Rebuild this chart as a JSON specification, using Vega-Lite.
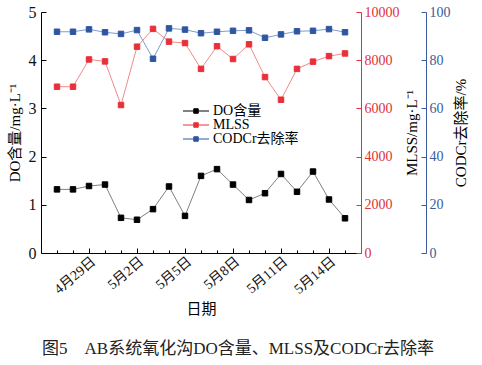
{
  "$schema": "https://vega.github.io/schema/vega-lite/v6.json",
  "width": 320,
  "height": 241,
  "autosize": {"type": "none"},
  "padding": {"left": 41, "top": 12, "right": 121, "bottom": 112},
  "background": "white",
  "config": {
    "view": {"stroke": null},
    "font": "Liberation Serif, Noto Sans CJK SC",
    "axis": {
      "grid": false,
      "labelFont": "Liberation Serif, Noto Sans CJK SC",
      "titleFont": "Liberation Serif, Noto Sans CJK SC",
      "titleFontWeight": "normal",
      "titleColor": "#000000",
      "domainWidth": 1,
      "tickWidth": 1
    }
  },
  "title": {
    "text": "图5　AB系统氧化沟DO含量、MLSS及CODCr去除率",
    "orient": "bottom",
    "anchor": "middle",
    "fontSize": 17,
    "fontWeight": "normal",
    "font": "Liberation Serif, Noto Sans CJK SC",
    "color": "#222222",
    "offset": 25,
    "dx": 37
  },
  "data": {
    "values": [
      {"date": "2018/04/27", "DO": 1.32, "MLSS": 6900, "COD": 91.8},
      {"date": "2018/04/28", "DO": 1.32, "MLSS": 6900, "COD": 91.8},
      {"date": "2018/04/29", "DO": 1.39, "MLSS": 8030, "COD": 92.8},
      {"date": "2018/04/30", "DO": 1.42, "MLSS": 7950, "COD": 91.6},
      {"date": "2018/05/01", "DO": 0.73, "MLSS": 6140, "COD": 90.9},
      {"date": "2018/05/02", "DO": 0.69, "MLSS": 8560, "COD": 92.5},
      {"date": "2018/05/03", "DO": 0.91, "MLSS": 9300, "COD": 80.6},
      {"date": "2018/05/04", "DO": 1.38, "MLSS": 8770, "COD": 93.2},
      {"date": "2018/05/05", "DO": 0.77, "MLSS": 8710, "COD": 92.7},
      {"date": "2018/05/06", "DO": 1.60, "MLSS": 7640, "COD": 91.2},
      {"date": "2018/05/07", "DO": 1.74, "MLSS": 8580, "COD": 91.8},
      {"date": "2018/05/08", "DO": 1.42, "MLSS": 8050, "COD": 92.2},
      {"date": "2018/05/09", "DO": 1.10, "MLSS": 8660, "COD": 92.4},
      {"date": "2018/05/10", "DO": 1.24, "MLSS": 7300, "COD": 89.3},
      {"date": "2018/05/11", "DO": 1.64, "MLSS": 6360, "COD": 90.7},
      {"date": "2018/05/12", "DO": 1.27, "MLSS": 7640, "COD": 92.0},
      {"date": "2018/05/13", "DO": 1.69, "MLSS": 7940, "COD": 92.2},
      {"date": "2018/05/14", "DO": 1.11, "MLSS": 8170, "COD": 92.9},
      {"date": "2018/05/15", "DO": 0.72, "MLSS": 8280, "COD": 91.6}
    ]
  },
  "encoding": {
    "x": {
      "field": "date",
      "type": "temporal",
      "scale": {"domain": [{"year": 2018, "month": 4, "date": 26}, {"year": 2018, "month": 5, "date": 16}]},
      "axis": {
        "title": "日期",
        "titleFontSize": 15,
        "titlePadding": 5,
        "values": [
          {"year": 2018, "month": 4, "date": 27}, {"year": 2018, "month": 4, "date": 28},
          {"year": 2018, "month": 4, "date": 29}, {"year": 2018, "month": 4, "date": 30},
          {"year": 2018, "month": 5, "date": 1}, {"year": 2018, "month": 5, "date": 2},
          {"year": 2018, "month": 5, "date": 3}, {"year": 2018, "month": 5, "date": 4},
          {"year": 2018, "month": 5, "date": 5}, {"year": 2018, "month": 5, "date": 6},
          {"year": 2018, "month": 5, "date": 7}, {"year": 2018, "month": 5, "date": 8},
          {"year": 2018, "month": 5, "date": 9}, {"year": 2018, "month": 5, "date": 10},
          {"year": 2018, "month": 5, "date": 11}, {"year": 2018, "month": 5, "date": 12},
          {"year": 2018, "month": 5, "date": 13}, {"year": 2018, "month": 5, "date": 14},
          {"year": 2018, "month": 5, "date": 15}
        ],
        "labelExpr": "indexof([29,2,5,8,11,14], date(datum.value)) >= 0 ? (month(datum.value) + 1) + '月' + date(datum.value) + '日' : ''",
        "labelOverlap": false,
        "labelAngle": -40,
        "labelFontSize": 14,
        "labelColor": "#111111",
        "labelPadding": 6,
        "tickSize": {"condition": {"test": "indexof([29,2,5,8,11,14], date(datum.value)) >= 0", "value": -5}, "value": -3},
        "tickColor": "#000000",
        "domainColor": "#000000"
      }
    }
  },
  "layer": [
    {
      "layer": [
        {
          "mark": {"type": "line", "stroke": "#808080", "strokeWidth": 1},
          "encoding": {
            "y": {
              "field": "DO",
              "type": "quantitative",
              "scale": {"domain": [0, 5]},
              "axis": {
                "orient": "left",
                "title": "DO含量/mg·L⁻¹",
                "titleFontSize": 15,
                "titlePadding": 6,
                "values": [0, 0.5, 1, 1.5, 2, 2.5, 3, 3.5, 4, 4.5, 5],
                "labelExpr": "datum.value % 1 === 0 ? format(datum.value, 'd') : ''",
                "labelOverlap": false,
                "labelFontSize": 16,
                "labelColor": "#111111",
                "labelPadding": 10,
                "tickSize": {"condition": {"test": "datum.value % 1 === 0", "value": -5}, "value": -3},
                "tickColor": "#000000",
                "domainColor": "#000000"
              }
            }
          }
        },
        {
          "mark": {"type": "point", "shape": "square", "filled": true, "size": 30, "opacity": 1, "strokeWidth": 1},
          "encoding": {
            "y": {"field": "DO", "type": "quantitative"},
            "fill": {
              "datum": "DO含量",
              "type": "nominal",
              "scale": {"domain": ["DO含量", "MLSS", "CODCr去除率"], "range": ["#000000", "#e8303a", "#2f56a0"]},
              "legend": {
                "orient": "none",
                "legendX": 148,
                "legendY": 92,
                "title": null,
                "symbolType": "M-5.2,0H-0.9M0.9,0H5.2M-0.9,-0.9H0.9V0.9H-0.9Z",
                "symbolSize": 25,
                "symbolStrokeWidth": 1,
                "labelFontSize": 14,
                "labelFont": "Liberation Serif, Noto Sans CJK SC",
                "labelColor": "#000000",
                "labelOffset": 10,
                "rowPadding": 0
              }
            },
            "stroke": {
              "datum": "DO含量",
              "type": "nominal",
              "scale": {"domain": ["DO含量", "MLSS", "CODCr去除率"], "range": ["#000000", "#e8303a", "#2f56a0"]},
              "legend": {
                "orient": "none",
                "legendX": 148,
                "legendY": 92,
                "title": null,
                "symbolType": "M-5.2,0H-0.9M0.9,0H5.2M-0.9,-0.9H0.9V0.9H-0.9Z",
                "symbolSize": 25,
                "symbolStrokeWidth": 1,
                "labelFontSize": 14,
                "labelFont": "Liberation Serif, Noto Sans CJK SC",
                "labelColor": "#000000",
                "labelOffset": 10,
                "rowPadding": 0
              }
            }
          }
        }
      ]
    },
    {
      "layer": [
        {
          "mark": {"type": "line", "stroke": "#f08a8a", "strokeWidth": 1},
          "encoding": {
            "y": {
              "field": "MLSS",
              "type": "quantitative",
              "scale": {"domain": [0, 10000]},
              "axis": {
                "orient": "right",
                "title": "MLSS/mg·L⁻¹",
                "titleAngle": 270,
                "titleBaseline": "top",
                "titleFontSize": 15,
                "titlePadding": 5,
                "values": [0, 1000, 2000, 3000, 4000, 5000, 6000, 7000, 8000, 9000, 10000],
                "labelExpr": "datum.value % 2000 === 0 ? format(datum.value, 'd') : ''",
                "labelOverlap": false,
                "labelFontSize": 14,
                "labelColor": "#e0303a",
                "labelPadding": 8,
                "tickSize": {"condition": {"test": "datum.value % 2000 === 0", "value": -5}, "value": -3},
                "tickColor": "#e0303a",
                "domainColor": "#e0303a"
              }
            }
          }
        },
        {
          "mark": {"type": "point", "shape": "square", "filled": true, "size": 30, "opacity": 1, "strokeWidth": 1},
          "encoding": {
            "y": {"field": "MLSS", "type": "quantitative"},
            "fill": {"datum": "MLSS", "type": "nominal"},
            "stroke": {"datum": "MLSS", "type": "nominal"}
          }
        }
      ]
    },
    {
      "layer": [
        {
          "mark": {"type": "line", "stroke": "#7f9ccf", "strokeWidth": 1},
          "encoding": {
            "y": {
              "field": "COD",
              "type": "quantitative",
              "scale": {"domain": [0, 100]},
              "axis": {
                "orient": "right",
                "offset": 65,
                "title": "CODCr去除率/%",
                "titleAngle": 270,
                "titleBaseline": "top",
                "titleFontSize": 15,
                "titlePadding": 3,
                "values": [0, 10, 20, 30, 40, 50, 60, 70, 80, 90, 100],
                "labelExpr": "datum.value % 20 === 0 ? format(datum.value, 'd') : ''",
                "labelOverlap": false,
                "labelFontSize": 14,
                "labelColor": "#3a5a9c",
                "labelPadding": 8,
                "tickSize": {"condition": {"test": "datum.value % 20 === 0", "value": -5}, "value": -3},
                "tickColor": "#3a5a9c",
                "domainColor": "#3a5a9c"
              }
            }
          }
        },
        {
          "mark": {"type": "point", "shape": "square", "filled": true, "size": 30, "opacity": 1, "strokeWidth": 1},
          "encoding": {
            "y": {"field": "COD", "type": "quantitative"},
            "fill": {"datum": "CODCr去除率", "type": "nominal"},
            "stroke": {"datum": "CODCr去除率", "type": "nominal"}
          }
        }
      ]
    }
  ],
  "resolve": {"scale": {"y": "independent"}}
}
